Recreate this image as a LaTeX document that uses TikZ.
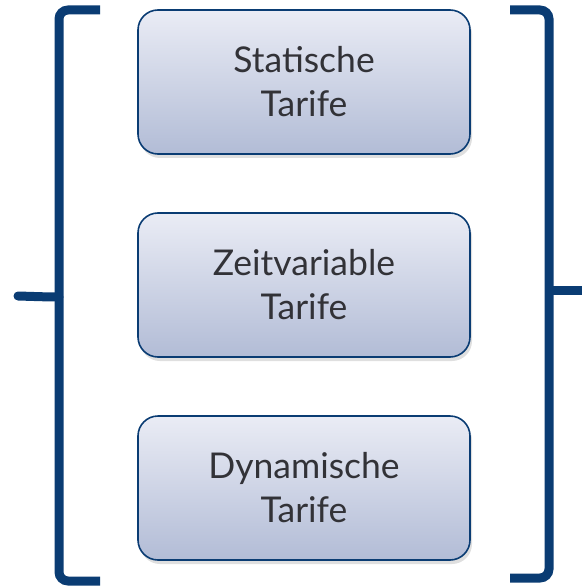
\documentclass[tikz,border=0pt]{standalone}
\usepackage{fontspec}
\setmainfont{Lato}
\usetikzlibrary{shadows}
\definecolor{bracecol}{RGB}{10,60,115}
\definecolor{boxtop}{RGB}{234,236,245}
\definecolor{boxbottom}{RGB}{178,188,214}
\definecolor{textcol}{RGB}{50,50,55}
\newcommand{\boxx}{304}
\tikzset{
  tarif/.style={draw=bracecol, line width=1.6pt, rounded corners=20pt,
    top color=boxtop, bottom color=boxbottom,
    minimum width=332pt, minimum height=144pt,
    align=center, text=textcol, font=\fontsize{35.5}{44}\selectfont,
    drop shadow={shadow xshift=2pt, shadow yshift=-4pt, opacity=0.25}},
  brace/.style={draw=bracecol, line width=9pt, rounded corners=9pt}
}

\begin{document}
\begin{tikzpicture}[x=1pt, y=-1pt]
    \useasboundingbox (0,0) rectangle (582,588);
    %
    \node[tarif] (statisch) at (\boxx, 82) {Statische\\Tarife};
    \node[tarif] (zeitvar)  at (\boxx, 285) {Zeitvariable\\Tarife};
    \node[tarif] (dynamisch) at (\boxx, 488) {Dynamische\\Tarife};

    % left brace
    \draw[brace] (100,10) -- (59,10) -- (59,581) -- (100,581);
    \draw[bracecol, line width=9pt, line cap=round]
        (59,297) .. controls (50,297) .. (18,296);

    % right brace
    \draw[brace] (510,10) -- (549,10) -- (549,578) -- (510,578);
    \draw[bracecol, line width=9pt] (549,290) .. controls (558,290) .. (582,290);
\end{tikzpicture}
\end{document}
